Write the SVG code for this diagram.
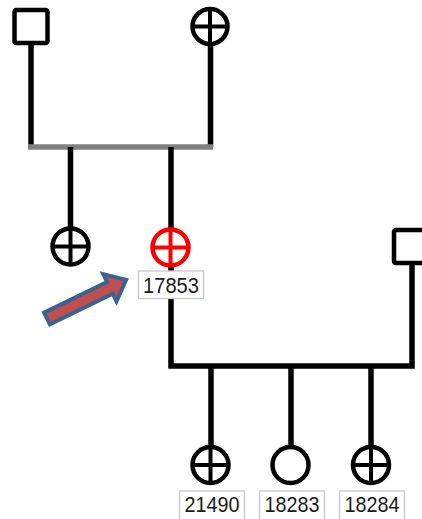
<svg xmlns="http://www.w3.org/2000/svg" width="422" height="519" viewBox="0 0 422 519">
<style>
.ln{stroke:#000;stroke-width:5.5;fill:none}
.sym{stroke:#000;stroke-width:4.5;fill:#fff}
.x{stroke:#000;stroke-width:4}
.red .sym{stroke:#ff0000}
.red .x{stroke:#ff0000}
.lb{fill:#fff;stroke:#c8c8c8;stroke-width:1.3}
.t{font-family:"Liberation Sans",Arial,sans-serif;font-size:22px;fill:#1a1a1a;text-anchor:middle}
</style>
<rect width="422" height="519" fill="#fff"/>
<g id="connectors">
<path class="ln" d="M31,44 V147"/>
<path class="ln" d="M210.5,45 V147"/>
<path d="M28,147 H213" stroke="#808080" stroke-width="5.5"/>
<path class="ln" d="M70.5,147 V228"/>
<path class="ln" d="M171,147 V229"/>
<path class="ln" d="M171,266 V366 H412 V264"/>
<path class="ln" d="M211,366 V447"/>
<path class="ln" d="M291,366 V447"/>
<path class="ln" d="M371,366 V447"/>
</g>
<g id="father">
<rect class="sym" x="14.5" y="10" width="33" height="33" rx="2"/>
</g>
<g id="mother">
<circle class="sym" cx="210" cy="26.5" r="17.5"/>
<path class="x" d="M192.5,26.5 H227.5 M210,9 V44"/>
</g>
<g id="sibling">
<circle class="sym" cx="70.5" cy="246.5" r="18"/>
<path class="x" d="M52.5,246.5 H88.5 M70.5,228.5 V264.5"/>
</g>
<g id="n17853" class="red">
<circle class="sym" cx="170.5" cy="247.5" r="18"/>
<path class="x" d="M152.5,247.5 H188.5 M170.5,229.5 V265.5"/>
<rect class="lb" x="138.5" y="271" width="65" height="27.5"/>
<text class="t" x="171" y="292.5" textLength="56" lengthAdjust="spacingAndGlyphs">17853</text>
</g>
<g id="spouse">
<rect class="sym" x="394" y="230" width="40" height="33" rx="2"/>
</g>
<g id="n21490">
<circle class="sym" cx="210.5" cy="465" r="18"/>
<path class="x" d="M192.5,465 H228.5 M210.5,447 V483"/>
<rect class="lb" x="179.5" y="491" width="65" height="30"/>
<text class="t" x="212" y="512" textLength="55" lengthAdjust="spacingAndGlyphs">21490</text>
</g>
<g id="n18283">
<circle class="sym" cx="290.5" cy="465" r="18"/>
<rect class="lb" x="259.5" y="491" width="65" height="30"/>
<text class="t" x="292" y="512" textLength="55" lengthAdjust="spacingAndGlyphs">18283</text>
</g>
<g id="n18284">
<circle class="sym" cx="371" cy="465" r="18"/>
<path class="x" d="M353,465 H389 M371,447 V483"/>
<rect class="lb" x="339.5" y="491" width="65" height="30"/>
<text class="t" x="372" y="512" textLength="55" lengthAdjust="spacingAndGlyphs">18284</text>
</g>
<g id="pointer">
<path d="M0,-6.5 L70,-6.5 L70,-15 L88,0 L70,15 L70,6.5 L0,6.5 Z" transform="translate(47,318.5) rotate(-26)" fill="#c0504d" stroke="#3d6291" stroke-width="4" stroke-linejoin="miter"/>
</g>
</svg>
